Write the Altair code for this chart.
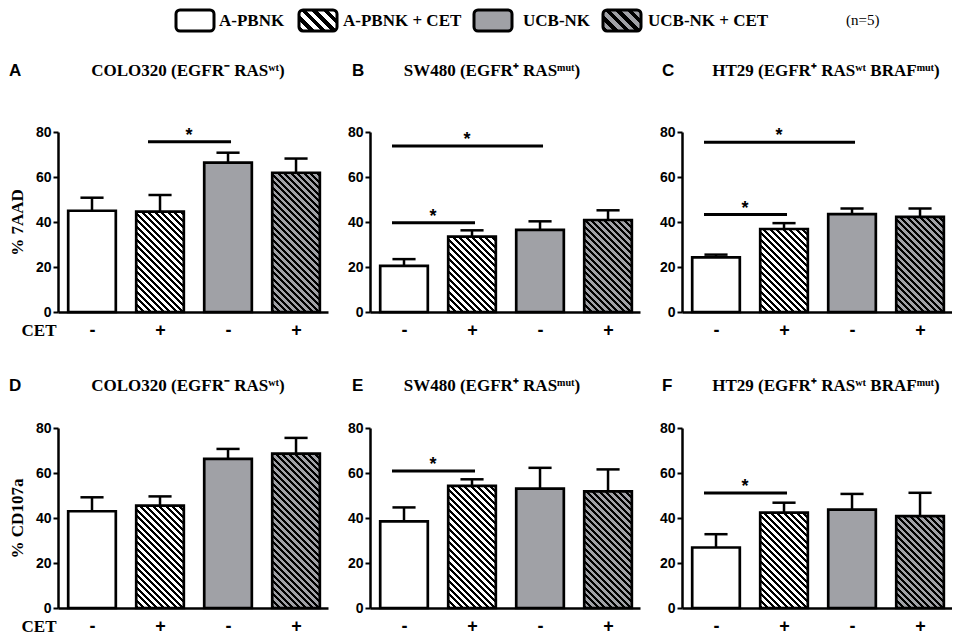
import json
import altair as alt
import pandas as pd

# ---------------- data ----------------
groups = ["A-PBNK", "A-PBNK + CET", "UCB-NK", "UCB-NK + CET"]
cet_signs = ["-", "+", "-", "+"]

cell_titles = ["COLO320 (EGFR⁻ RASʷᵗ)", "SW480 (EGFR⁺ RASᵐᵘᵗ)", "HT29 (EGFR⁺ RASʷᵗ BRAFᵐᵘᵗ)"]
letters_7aad = ["A", "B", "C"]
letters_cd107a = ["D", "E", "F"]

colo_7aad_mean = [45.0, 44.6, 66.4, 61.9]
colo_7aad_err = [5.8, 7.4, 4.4, 6.3]
sw_7aad_mean = [20.5, 33.5, 36.5, 40.9]
sw_7aad_err = [3.0, 2.8, 3.8, 4.3]
ht_7aad_mean = [24.3, 36.9, 43.5, 42.3]
ht_7aad_err = [1.2, 2.6, 2.5, 3.7]

colo_cd_mean = [43.0, 45.5, 66.3, 68.6]
colo_cd_err = [6.2, 4.1, 4.4, 7.0]
sw_cd_mean = [38.5, 54.3, 53.1, 51.8]
sw_cd_err = [6.2, 2.9, 9.2, 9.8]
ht_cd_mean = [26.9, 42.4, 43.7, 40.8]
ht_cd_err = [5.9, 4.4, 7.0, 10.4]

# significance brackets: (from group index, to group index, height)
colo_7aad_sig = ([1], [2], [75.7])
sw_7aad_sig = ([0, 0], [2, 1], [73.8, 39.7])
ht_7aad_sig = ([0, 0], [2, 1], [75.4, 43.3])
colo_cd_sig = ([], [], [])
sw_cd_sig = ([0], [1], [60.9])
ht_cd_sig = ([0], [1], [51.1])

legend_labels = ["A-PBNK", "A-PBNK + CET", "UCB-NK", "UCB-NK +  CET"]
n_note = "(n=5)"

# ---------------- style ----------------
SERIF = "Liberation Serif"
SANS = "Liberation Sans"
GRAY = "#a0a1a6"
W, H = 270, 180
XMIN, XMAX = -0.5, 3.47
PX = W / (XMAX - XMIN)
HALF = 0.35
YMAX = 80


def hatch(w, h, period, other):
    total = w + h
    stops = []
    k = 0
    while k * period < total:
        a = round(k * period / total, 4)
        m = round(min((k * period + period / 2) / total, 1), 4)
        e = round(min((k + 1) * period / total, 1), 4)
        stops += [
            {"offset": a, "color": "#000000"},
            {"offset": m, "color": "#000000"},
            {"offset": m, "color": other},
            {"offset": e, "color": other},
        ]
        k += 1
    c = total / (w * w + h * h)
    return {"gradient": "linear", "x1": 0, "y1": 1,
            "x2": round(c * w, 5), "y2": round(1 - c * h, 5), "stops": stops}


def panel(means, errs, sig, title, letter, ytitle, first_col, title_y, title_cx,
          letter_x, legend=False):
    df = pd.DataFrame({"idx": list(range(4)), "group": groups, "mean": means, "err": errs})
    xs = alt.Scale(domain=[XMIN, XMAX], nice=False, zero=False)
    ys = alt.Scale(domain=[0, YMAX], nice=False)
    xaxis = alt.Axis(
        values=[0, 1, 2, 3], labelExpr=json.dumps(cet_signs) + "[datum.value]",
        ticks=False, grid=False, domainColor="black", domainWidth=2.5,
        labelFont=SANS, labelFontSize=18, labelFontWeight="bold", labelColor="black",
        labelPadding=18, labelBaseline="middle",
        title="CET" if first_col else None, titleX=-2, titleY=18, titleAlign="right",
        titleBaseline="middle", titleAngle=0, titleFont=SERIF, titleFontSize=17,
        titleFontWeight="bold", titleColor="black")
    yaxis = alt.Axis(
        values=[0, 20, 40, 60, 80], tickSize=5, tickWidth=2, tickColor="black",
        domainColor="black", domainWidth=2.5, grid=False,
        labelFont=SANS, labelFontSize=14, labelFontWeight="bold", labelColor="black",
        labelPadding=2,
        title=ytitle if first_col else None, titleX=-41, titleY=H / 2, titleAngle=270,
        titleAlign="center", titleBaseline="middle", titleFont=SERIF, titleFontSize=17,
        titleFontWeight="bold", titleColor="black")

    def X(f):
        return alt.X(f, scale=xs, axis=xaxis)

    def Y(f):
        return alt.Y(f, scale=ys, axis=yaxis)

    layers = []
    for i in range(4):
        w_px = 2 * HALF * PX
        h_px = means[i] / YMAX * H
        if i == 0:
            fill = "#ffffff"
        elif i == 1:
            fill = hatch(w_px, h_px, 6.5, "#ffffff")
        elif i == 2:
            fill = GRAY
        else:
            fill = hatch(w_px, h_px, 6.5, GRAY)
        layers.append(
            alt.Chart(df).transform_filter(alt.datum.idx == i)
            .transform_calculate(x0=f"datum.idx - {HALF}", x1=f"datum.idx + {HALF}")
            .mark_rect(fill=fill, stroke="black", strokeWidth=2.7)
            .encode(x=X("x0:Q"), x2="x1:Q", y=Y("mean:Q"), y2=alt.datum(0))
        )
    err = alt.Chart(df).transform_calculate(top="datum.mean + datum.err",
                                            c0="datum.idx - 0.17", c1="datum.idx + 0.17")
    layers.append(err.mark_rule(color="black", strokeWidth=2.5)
                  .encode(x=X("idx:Q"), y=Y("mean:Q"), y2="top:Q"))
    layers.append(err.mark_rule(color="black", strokeWidth=2.5)
                  .encode(x=X("c0:Q"), x2="c1:Q", y=Y("top:Q")))

    if len(sig[0]):
        sdf = pd.DataFrame({"a": sig[0], "b": sig[1], "level": sig[2]})
        sb = alt.Chart(sdf).transform_calculate(mid="(datum.a + datum.b) / 2")
        layers.append(sb.mark_rule(color="black", strokeWidth=3, xOffset=-12, x2Offset=3)
                      .encode(x=X("a:Q"), x2="b:Q", y=Y("level:Q")))
        layers.append(sb.mark_text(text="*", font=SANS, fontSize=18, fontWeight="bold",
                                   color="black", baseline="alphabetic", align="center",
                                   dx=-5, dy=-1)
                      .encode(x=X("mid:Q"), y=Y("level:Q")))

    tdf = pd.DataFrame({"t": [title], "l": [letter]})
    layers.append(alt.Chart(tdf).mark_text(font=SERIF, fontSize=17, fontWeight="bold",
                                           color="black", align="center", baseline="middle")
                  .encode(text="t:N", x=alt.value(title_cx), y=alt.value(title_y)))
    layers.append(alt.Chart(tdf).mark_text(font=SANS, fontSize=17, fontWeight="bold",
                                           color="black", align="left", baseline="middle")
                  .encode(text="l:N", x=alt.value(letter_x), y=alt.value(title_y)))

    if legend:
        box_x = [118, 241, 416, 545]
        text_x = [161, 285, 465, 590]
        fills = ["#ffffff", hatch(38, 21, 11, "#ffffff"), GRAY, hatch(38, 21, 11, GRAY)]
        ldf = pd.DataFrame({"label": legend_labels})
        for i in range(4):
            layers.append(
                alt.Chart(ldf).transform_filter(alt.datum.label == legend_labels[i])
                .mark_rect(fill=fills[i], stroke="black", strokeWidth=3, cornerRadius=4)
                .encode(x=alt.value(box_x[i]), x2=alt.value(box_x[i] + 38),
                        y=alt.value(-122), y2=alt.value(-101)))
            layers.append(
                alt.Chart(ldf).transform_filter(alt.datum.label == legend_labels[i])
                .mark_text(font=SERIF, fontSize=17, fontWeight="bold", color="black",
                           align="left", baseline="middle")
                .encode(text="label:N", x=alt.value(text_x[i]), y=alt.value(-111)))
        layers.append(
            alt.Chart(pd.DataFrame({"n": [n_note]}))
            .mark_text(font=SERIF, fontSize=15, color="black", align="left", baseline="middle")
            .encode(text="n:N", x=alt.value(788), y=alt.value(-112)))

    return alt.layer(*layers).properties(width=W, height=H)


pA = panel(colo_7aad_mean, colo_7aad_err, colo_7aad_sig, cell_titles[0], letters_7aad[0],
           "% 7AAD", True, -61, 130, -49, legend=True)
pB = panel(sw_7aad_mean, sw_7aad_err, sw_7aad_sig, cell_titles[1], letters_7aad[1],
           "% 7AAD", False, -61, 122, -18)
pC = panel(ht_7aad_mean, ht_7aad_err, ht_7aad_sig, cell_titles[2], letters_7aad[2],
           "% 7AAD", False, -61, 144, -20)
pD = panel(colo_cd_mean, colo_cd_err, colo_cd_sig, cell_titles[0], letters_cd107a[0],
           "% CD107a", True, -42, 130, -49)
pE = panel(sw_cd_mean, sw_cd_err, sw_cd_sig, cell_titles[1], letters_cd107a[1],
           "% CD107a", False, -42, 122, -18)
pF = panel(ht_cd_mean, ht_cd_err, ht_cd_sig, cell_titles[2], letters_cd107a[2],
           "% CD107a", False, -42, 144, -20)

chart = (
    alt.concat(pA, pB, pC, pD, pE, pF, columns=3,
               spacing=alt.RowColnumber(row=116, column=42), bounds="flush")
    .properties(padding=0, background="white")
    .configure_view(strokeWidth=0)
)
chart.save("out.html", embed_options={"renderer": "svg", "actions": False})
